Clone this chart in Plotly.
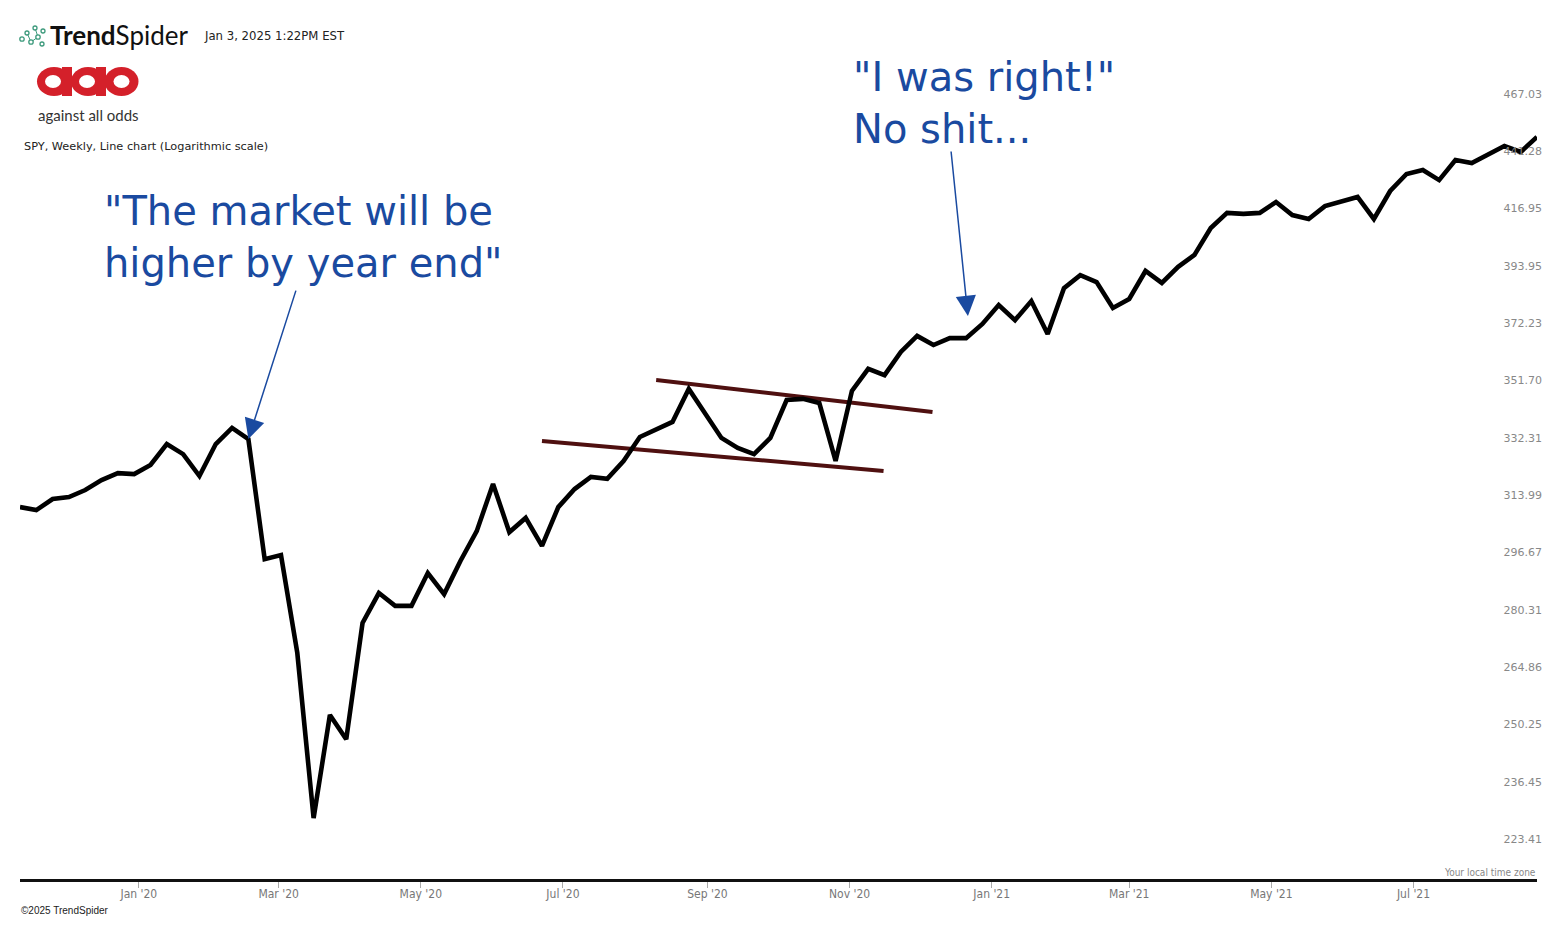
import plotly.graph_objects as go
import pandas as pd
import math

# ---------------- data ----------------
start_week = "2019-11-11"
spy_close = [
    310.3, 309.4, 312.8, 313.4, 315.6, 318.7, 320.9, 320.6, 323.5, 330.3,
    327.0, 320.0, 330.3, 335.6, 331.9, 294.7, 295.9, 268.6, 228.1, 252.6,
    246.6, 276.7, 285.0, 281.4, 281.4, 290.7, 284.7, 294.2, 303.0, 317.5,
    302.7, 307.0, 298.6, 310.3, 315.9, 319.7, 319.1, 324.8, 332.6, 334.9,
    337.6, 348.8, 340.6, 332.3, 329.0, 327.0, 332.3, 345.0, 345.4, 344.0,
    324.8, 348.1, 355.8, 353.6, 361.8, 367.6, 364.3, 366.8, 366.8, 372.0,
    379.0, 373.4, 380.5, 368.3, 385.4, 390.4, 387.7, 377.9, 381.3, 392.0,
    387.4, 393.6, 398.3, 409.0, 415.2, 414.8, 415.2, 419.7, 414.3, 412.7,
    418.0, 420.1, 421.8, 412.7, 424.3, 431.5, 433.2, 428.9, 437.5, 436.2,
    440.1, 443.6, 441.0, 447.6,
]
weeks = pd.date_range(start_week, periods=len(spy_close), freq="7D")

y_tick_values = [223.41, 236.45, 250.25, 264.86, 280.31, 296.67, 313.99,
                 332.31, 351.70, 372.23, 393.95, 416.95, 441.28, 467.03]
x_tick_dates = ["2020-01-01", "2020-03-01", "2020-05-01", "2020-07-01", "2020-09-01",
                "2020-11-01", "2021-01-01", "2021-03-01", "2021-05-01", "2021-07-01"]
x_tick_labels = ["Jan '20", "Mar '20", "May '20", "Jul '20", "Sep '20",
                 "Nov '20", "Jan '21", "Mar '21", "May '21", "Jul '21"]

# channel trend lines (date, price)
upper_channel_x = ["2020-08-10", "2020-12-06 14:00"]
upper_channel_y = [351.9, 340.9]
lower_channel_x = ["2020-06-22", "2020-11-15 14:00"]
lower_channel_y = [331.3, 321.6]

# arrow targets (date, price)
arrow1_x, arrow1_y = "2020-02-17", 331.9
arrow2_x, arrow2_y = "2020-12-21 19:00", 374.9

# ---------------- layout geometry ----------------
OFF = 8  # page body margin
W, H = 1567 - 2 * OFF, 925 - 2 * OFF
L = 20 - OFF
R = W - (1537 - OFF)
T = 60 - OFF
B = H - (879 - OFF)
PW, PH = W - L - R, H - T - B


def px(x):
    """page pixel x -> paper"""
    return (x - OFF - L) / PW


def py(y):
    """page pixel y -> paper"""
    return (H - B - (y - OFF)) / PH


BLUE = "#1a4aa0"
MAROON = "#4f1010"

fig = go.Figure()

fig.add_trace(go.Scatter(x=upper_channel_x, y=upper_channel_y, mode="lines",
                         line=dict(color=MAROON, width=4), hoverinfo="skip"))
fig.add_trace(go.Scatter(x=lower_channel_x, y=lower_channel_y, mode="lines",
                         line=dict(color=MAROON, width=4), hoverinfo="skip"))
fig.add_trace(go.Scatter(x=weeks, y=spy_close, mode="lines",
                         line=dict(color="#000000", width=4.6, shape="linear"),
                         name="SPY"))

annotations = []
# arrows
annotations.append(dict(x=arrow1_x, y=math.log10(arrow1_y), xref="x", yref="y",
                        ax=48, ay=-150, axref="pixel", ayref="pixel",
                        showarrow=True, arrowhead=2, arrowsize=2.7, arrowwidth=1.5,
                        arrowcolor=BLUE, text=""))
annotations.append(dict(x=arrow2_x, y=math.log10(arrow2_y), xref="x", yref="y",
                        ax=-17, ay=-166, axref="pixel", ayref="pixel",
                        showarrow=True, arrowhead=2, arrowsize=2.7, arrowwidth=1.5,
                        arrowcolor=BLUE, text=""))
# big blue texts
annotations.append(dict(x=px(102), y=py(186), xref="paper", yref="paper",
                        xanchor="left", yanchor="top", align="left", showarrow=False,
                        text="\"The market will be<br>higher by year end\"",
                        font=dict(family="DejaVu Sans", size=40, color=BLUE)))
annotations.append(dict(x=px(851), y=py(52), xref="paper", yref="paper",
                        xanchor="left", yanchor="top", align="left", showarrow=False,
                        text="\"I was right!\"<br>No shit...",
                        font=dict(family="DejaVu Sans", size=40, color=BLUE)))
# header
annotations.append(dict(x=px(48), y=py(35), xref="paper", yref="paper",
                        xanchor="left", yanchor="middle", showarrow=False,
                        text="<b>Trend</b>Spider",
                        font=dict(family="Lato", size=26, color="#111111")))
annotations.append(dict(x=px(202), y=py(36), xref="paper", yref="paper",
                        xanchor="left", yanchor="middle", showarrow=False,
                        text="Jan 3, 2025 1:22PM EST",
                        font=dict(family="DejaVu Sans", size=11.7, color="#222222")))
annotations.append(dict(x=px(36), y=py(115), xref="paper", yref="paper",
                        xanchor="left", yanchor="middle", showarrow=False,
                        text="against all odds",
                        font=dict(family="Lato", size=15, color="#333333")))
annotations.append(dict(x=px(22), y=py(147), xref="paper", yref="paper",
                        xanchor="left", yanchor="middle", showarrow=False,
                        text="SPY, Weekly, Line chart (Logarithmic scale)",
                        font=dict(family="DejaVu Sans", size=11.3, color="#222222")))
annotations.append(dict(x=px(1538), y=py(872), xref="paper", yref="paper",
                        xanchor="right", yanchor="middle", showarrow=False,
                        text="Your local time zone",
                        font=dict(family="DejaVu Sans Condensed, DejaVu Sans", size=10, color="#888888")))
annotations.append(dict(x=px(19), y=py(910), xref="paper", yref="paper",
                        xanchor="left", yanchor="middle", showarrow=False,
                        text="©2025 TrendSpider",
                        font=dict(family="Liberation Sans Narrow, Liberation Sans", size=10, color="#222222")))

shapes = []
# TrendSpider icon: small green rings
GREEN = "#3d9a7c"
for (xa, ya, xb, yb) in [(27, 33, 31, 42), (31, 42, 38, 37), (35, 28, 38, 37)]:
    shapes.append(dict(type="line", xref="paper", yref="paper",
                       x0=px(xa), y0=py(ya), x1=px(xb), y1=py(yb),
                       line=dict(color=GREEN, width=1)))
for (cx, cy, r) in [(22, 39, 2.2), (27, 33, 2.0), (31, 42, 2.2), (35, 28, 2.0),
                    (38, 37, 2.2), (42, 44, 2.0), (43, 31, 2.0)]:
    shapes.append(dict(type="circle", xref="paper", yref="paper",
                       x0=px(cx - r), x1=px(cx + r), y0=py(cy + r), y1=py(cy - r),
                       line=dict(color=GREEN, width=1.3), fillcolor="white"))

# against-all-odds logo
RED = "#d4202a"
for cx in [54, 88, 121.5]:
    shapes.append(dict(type="circle", xref="paper", yref="paper",
                       x0=px(cx - 17), x1=px(cx + 17), y0=py(96), y1=py(67),
                       line=dict(width=0), fillcolor=RED))
for (xa, xb) in [(62, 72), (96, 106)]:
    shapes.append(dict(type="rect", xref="paper", yref="paper",
                       x0=px(xa), x1=px(xb), y0=py(96), y1=py(67),
                       line=dict(width=0), fillcolor=RED))
for cx in [53, 87, 121.5]:
    shapes.append(dict(type="circle", xref="paper", yref="paper",
                       x0=px(cx - 8), x1=px(cx + 8), y0=py(88), y1=py(75),
                       line=dict(width=0), fillcolor="white"))

fig.update_layout(
    width=W, height=H,
    margin=dict(l=L, r=R, t=T, b=B, pad=0),
    paper_bgcolor="white", plot_bgcolor="white",
    showlegend=False,
    annotations=annotations,
    shapes=shapes,
    xaxis=dict(
        type="date",
        range=[weeks[0], weeks[-1]],
        tickvals=x_tick_dates, ticktext=x_tick_labels,
        showgrid=False, zeroline=False,
        showline=True, linecolor="#111111", linewidth=3,
        ticks="outside", ticklen=6, tickwidth=1, tickcolor="#aaaaaa",
        ticklabelstandoff=-4,
        tickfont=dict(family="DejaVu Sans Condensed, DejaVu Sans", size=12, color="#777777"),
    ),
    yaxis=dict(
        type="log",
        range=[2.33192, 2.68398],
        side="right",
        tickvals=y_tick_values,
        ticktext=[f"{v:.2f}" for v in y_tick_values],
        ticklabelposition="inside",
        ticklabelstandoff=-8,
        showgrid=False, zeroline=False, showline=False, ticks="",
        tickfont=dict(family="DejaVu Sans", size=11, color="#888888"),
    ),
)

fig.write_html("out.html")
